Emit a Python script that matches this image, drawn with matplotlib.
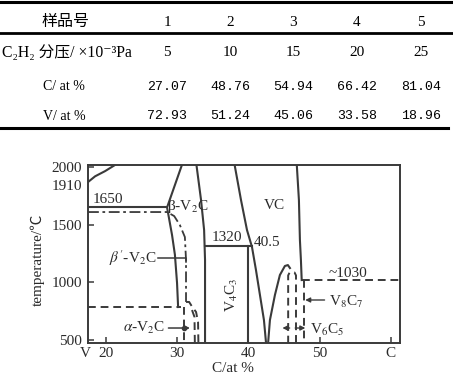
import matplotlib
matplotlib.use('Agg')
import matplotlib.pyplot as plt
import matplotlib.transforms as mtransforms

plt.rcParams['font.family'] = ['Liberation Serif', 'Noto Sans CJK SC', 'DejaVu Serif']
plt.rcParams['mathtext.fontset'] = 'stix'

# ---- table data ----
sample_no = [1, 2, 3, 4, 5]
pressure = [5, 10, 15, 20, 25]
c_at = [27.07, 48.76, 54.94, 66.42, 81.04]
v_at = [72.93, 51.24, 45.06, 33.58, 18.96]
row_labels = ['样品号', 'C₂H₂ 分压/ ×10⁻³Pa', 'C/ at %', 'V/ at %']

# ---- phase diagram data (C at%, temperature) ----
liq_c = [17.5, 18.5, 19.9, 21.6]
liq_t = [1870, 1920, 1965, 2030]
v2c_left_c = [30.75, 28.6, 29.3, 29.7, 30.0, 30.15]
v2c_left_t = [2030, 1650, 1410, 1240, 995, 786]
v2c_right_c = [32.7, 33.37, 33.8, 33.93, 33.93]
v2c_right_t = [2030, 1714, 1454, 1194, 470]
line1650_c = [17.5, 28.6]
line1650_t = [1650, 1650]
dashdot_c = [17.5, 28.6, 29.6, 30.4, 31.1, 31.26, 31.26]
dashdot_t = [1610, 1610, 1575, 1497, 1393, 1194, 830]
line786_c = [17.5, 30.6]
line786_t = [786, 786]
alpha_left_c = [31.0, 31.0]
alpha_left_t = [786, 470]
alpha_right_c = [31.26, 31.7, 32.1, 32.67, 32.95, 33.0]
alpha_right_t = [830, 830, 790, 743, 656, 470]
alpha_inner_c = [32.1, 32.45, 32.5]
alpha_inner_t = [760, 700, 470]
line1320_c = [33.93, 40.5]
line1320_t = [1315, 1315]
v4c3_c = [40.0, 40.0]
v4c3_t = [1315, 470]
vc_left_c = [38.05, 38.98, 39.82, 40.52, 41.08, 41.64, 42.2, 42.5]
vc_left_t = [2030, 1714, 1454, 1307, 1107, 890, 673, 470]
vc_low_c = [42.78, 43.04, 43.74, 44.44, 45.14, 45.56, 45.85]
vc_low_t = [470, 673, 890, 1064, 1142, 1150, 1124]
vc_right_c = [46.8, 47.11, 47.25, 47.39, 47.5]
vc_right_t = [2030, 1714, 1367, 1194, 1020]
line1030_c = [47.5, 61.5]
line1030_t = [1020, 1020]
v6c5_c = [45.6, 45.6, 45.8, 46.5, 46.7, 46.7]
v6c5_t = [470, 1060, 1085, 1085, 1060, 470]
v8c7_c = [47.8, 47.8]
v8c7_t = [1020, 470]

fig = plt.figure(figsize=(4.53, 3.85), dpi=100)

# ---- table drawn in pixel coordinates ----
tab = fig.add_axes([0, 0, 1, 1])
tab.set_xlim(0, 453)
tab.set_ylim(385, 0)
tab.axis('off')
col_x = [167, 230, 293, 357, 421]
row_y = [22, 53, 87, 116]
tab.plot([0, 453], [2, 2], color='k', lw=2.2)
tab.plot([0, 453], [33, 33], color='k', lw=2.0)
tab.plot([0, 448], [128, 128], color='k', lw=2.2)
tab.text(66, row_y[0], row_labels[0], ha='center', va='center', fontsize=11.5)
tab.text(67, row_y[1], row_labels[1], ha='center', va='center', fontsize=11.3)
tab.text(64, row_y[2], row_labels[2], ha='center', va='center', fontsize=10)
tab.text(64, row_y[3], row_labels[3], ha='center', va='center', fontsize=10)
for x, s, p, c, v in zip(col_x, sample_no, pressure, c_at, v_at):
    tab.text(x, row_y[0], str(s), ha='center', va='center', fontsize=11)
    tab.text(x, row_y[1], str(p), ha='center', va='center', fontsize=11)
    tab.text(x, row_y[2], '%.2f' % c, ha='center', va='center', fontsize=9.5,
             family='Liberation Mono')
    tab.text(x, row_y[3], '%.2f' % v, ha='center', va='center', fontsize=9.5,
             family='Liberation Mono')

# ---- phase diagram ----
ax = fig.add_axes([88/453, 1-343/385, 312/453, 178/385])
ax.set_xlim(17.5, 61.3)
ax.set_ylim(474, 2018)
lc = '#3a3a3a'
solid = dict(color=lc, lw=1.5)
dashed = dict(color=lc, lw=1.4, ls=(0, (4, 2.5)))

ax.plot(liq_c, liq_t, **solid)
ax.plot(v2c_left_c, v2c_left_t, **solid)
ax.plot(v2c_right_c, v2c_right_t, **solid)
ax.plot(line1650_c, line1650_t, **solid)
ax.plot(dashdot_c, dashdot_t, color=lc, lw=1.3, ls=(0, (6, 2, 1.5, 2)))
ax.plot(line786_c, line786_t, **dashed)
ax.plot(alpha_left_c, alpha_left_t, **dashed)
ax.plot(alpha_right_c, alpha_right_t, **dashed)
ax.plot(alpha_inner_c, alpha_inner_t, **dashed)
ax.plot(line1320_c, line1320_t, **solid)
ax.plot(v4c3_c, v4c3_t, **solid)
ax.plot(vc_left_c, vc_left_t, **solid)
ax.plot(vc_low_c, vc_low_t, **solid)
ax.plot(vc_right_c, vc_right_t, **solid)
ax.plot(line1030_c, line1030_t, **dashed)
ax.plot(v6c5_c, v6c5_t, **dashed)
ax.plot(v8c7_c, v8c7_t, **dashed)

tc = '#2a2a2a'
fs = 11
ax.text(20.25, 1722, '1650', fontsize=fs, color=tc, ha='center', va='center')
ax.text(28.6, 1660, 'β-V$_\\mathrm{2}$C', fontsize=fs, color=tc, ha='left', va='center')
ax.text(27.2, 1211, "$\\beta^{\\prime}$-V$_\\mathrm{2}$C", fontsize=fs, color=tc, ha='right', va='center')
ax.plot([27.3, 31.3, 31.3], [1211, 1211, 1180], color=lc, lw=1.1)
ax.text(28.3, 604, '$\\alpha$-V$_\\mathrm{2}$C', fontsize=fs, color=tc, ha='right', va='center')
ax.annotate('', xy=(32.2, 604), xytext=(28.4, 604),
            arrowprops=dict(arrowstyle='-|>', color=lc, lw=1.1, mutation_scale=7))
ax.plot([31.0], [604], 'o', color=lc, ms=3)
ax.text(37.0, 1385, '1320', fontsize=fs, color=tc, ha='center', va='center')
ax.text(40.7, 1350, '40.5', fontsize=fs, color=tc, ha='left', va='center')
ax.text(43.7, 1670, 'VC', fontsize=fs, color=tc, ha='center', va='center')
ax.text(37.7, 890, 'V$_\\mathrm{4}$C$_\\mathrm{3}$', fontsize=fs, color=tc,
        ha='center', va='center', rotation=90)
ax.text(54.0, 1081, '~1030', fontsize=fs, color=tc, ha='center', va='center')
ax.annotate('', xy=(47.6, 847), xytext=(51.1, 847),
            arrowprops=dict(arrowstyle='-|>', color=lc, lw=1.0, mutation_scale=7))
ax.text(51.3, 830, 'V$_\\mathrm{8}$C$_\\mathrm{7}$', fontsize=fs, color=tc, ha='left', va='center')
ax.annotate('', xy=(44.4, 604), xytext=(46.2, 604),
            arrowprops=dict(arrowstyle='-|>', color=lc, lw=1.0, mutation_scale=7))
ax.annotate('', xy=(48.4, 604), xytext=(46.2, 604),
            arrowprops=dict(arrowstyle='-|>', color=lc, lw=1.0, mutation_scale=7))
ax.text(48.7, 590, 'V$_\\mathrm{6}$C$_\\mathrm{5}$', fontsize=fs, color=tc, ha='left', va='center')

ax.set_xticks([20, 30, 40, 50, 60])
ax.set_xticklabels(['20', '30', '40', '50', 'C'])
ax.set_yticks([500, 1000, 1500, 2000])
ax.tick_params(direction='in', length=4, width=1.1, colors=lc, labelsize=fs,
               labelcolor=tc)
ax.tick_params(axis='x', pad=3)
ax.tick_params(axis='y', pad=4.5)
for sp in ax.spines.values():
    sp.set_color(lc)
    sp.set_linewidth(1.4)

trans = mtransforms.blended_transform_factory(ax.transAxes, ax.transData)
ax.text(-0.02, 1835, '1910', transform=trans, fontsize=fs, color=tc, ha='right', va='center')
ax.text(17.1, 379, 'V', fontsize=fs, color=tc, ha='center', va='center', clip_on=False)
fig.text(233/453, 1-368/385, 'C/at %', fontsize=fs, color=tc, ha='center', va='center')
fig.text(38/453, 1-260/385, 'temperature/℃', fontsize=fs, color=tc, ha='center',
         va='center', rotation=90)

fig.savefig('out.png', dpi=100)
